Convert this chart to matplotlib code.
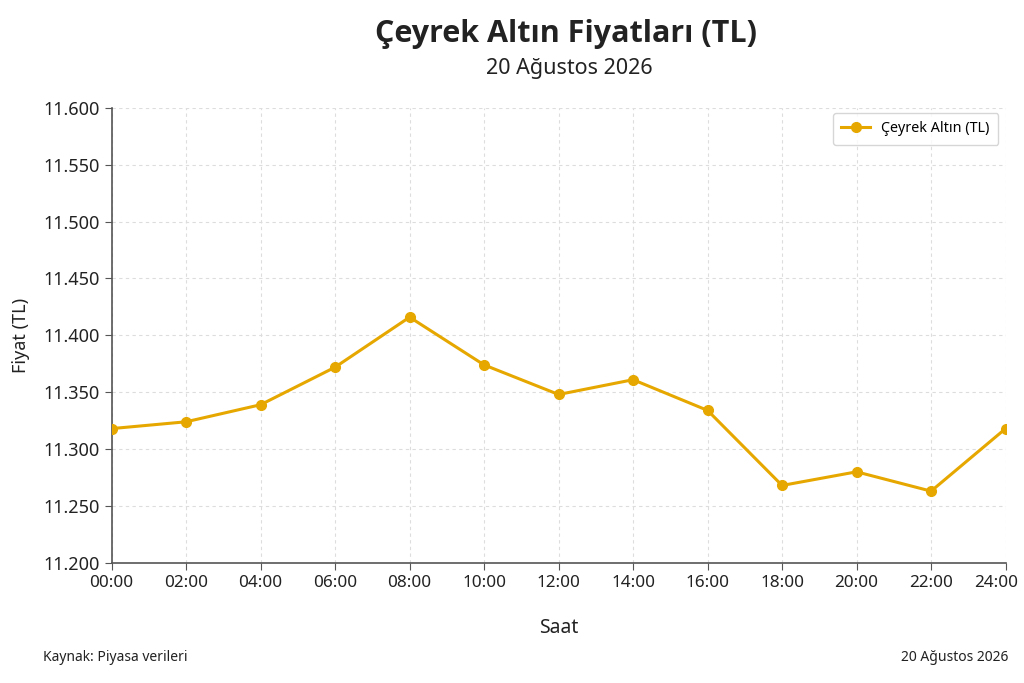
import matplotlib
matplotlib.use("Agg")
import matplotlib.pyplot as plt
import matplotlib.transforms as mtransforms
from matplotlib.ticker import FuncFormatter

hours = [0, 2, 4, 6, 8, 10, 12, 14, 16, 18, 20, 22, 24]
hour_labels = ["00:00", "02:00", "04:00", "06:00", "08:00", "10:00", "12:00",
               "14:00", "16:00", "18:00", "20:00", "22:00", "24:00"]
prices = [11318, 11324, 11339, 11372, 11416, 11374, 11348, 11361, 11334,
          11268, 11280, 11263, 11318]
y_ticks = [11200, 11250, 11300, 11350, 11400, 11450, 11500, 11550, 11600]

plt.rcParams['font.family'] = ['Noto Sans', 'DejaVu Sans']
color = '#E6A800'
txt = '#222222'

fig = plt.figure(figsize=(10.24, 6.83), dpi=100)
ax = fig.add_axes([0.109, 0.176, 0.873, 0.666])

ax.plot(hours, prices, color=color, linewidth=2.2, marker='o', markersize=7,
        label='Çeyrek Altın (TL)', zorder=3)

ax.set_xlim(0, 24)
ax.set_ylim(11200, 11600)
ax.set_xticks(hours)
ax.set_xticklabels(hour_labels)
ax.set_yticks(y_ticks)
ax.yaxis.set_major_formatter(FuncFormatter(lambda v, p: f"{int(v):,}".replace(",", ".")))
ax.tick_params(axis='y', labelsize=13, colors='#555555', labelcolor=txt, length=5)
ax.tick_params(axis='x', labelsize=12.3, colors='#555555', labelcolor=txt, length=5)

# keep last x label inside the figure, as in the reference
last = ax.get_xticklabels()[-1]
last.set_transform(last.get_transform() +
                   mtransforms.ScaledTranslation(-9 / 100, 0, fig.dpi_scale_trans))

ax.grid(True, linestyle=(0, (3, 3)), color='#dddddd', linewidth=0.8)
for s in ['top', 'right']:
    ax.spines[s].set_visible(False)
for s in ['left', 'bottom']:
    ax.spines[s].set_color('#555555')
    ax.spines[s].set_linewidth(1.2)

ax.set_xlabel('Saat', fontsize=14, color=txt, labelpad=20)
ax.set_ylabel('Fiyat (TL)', fontsize=13, color=txt, labelpad=10)

leg = ax.legend(loc='upper right', fontsize=10.3, frameon=True, fancybox=True,
                edgecolor='#cccccc', borderpad=0.6, handlelength=2.0,
                bbox_to_anchor=(1.0, 1.005))
leg.get_frame().set_linewidth(1.0)

fig.text(0.553, 0.950, 'Çeyrek Altın Fiyatları (TL)', ha='center', va='center',
         fontsize=22, fontweight='bold', color=txt,
         family=['Open Sans', 'Noto Sans', 'DejaVu Sans'])
fig.text(0.556, 0.900, '20 Ağustos 2026', ha='center', va='center',
         fontsize=15.5, color=txt)
fig.text(0.042, 0.038, 'Kaynak: Piyasa verileri', ha='left', va='center',
         fontsize=10, color=txt)
fig.text(0.985, 0.037, '20 Ağustos 2026', ha='right', va='center',
         fontsize=10, color=txt)

fig.savefig('out.png', dpi=100, facecolor='white')
